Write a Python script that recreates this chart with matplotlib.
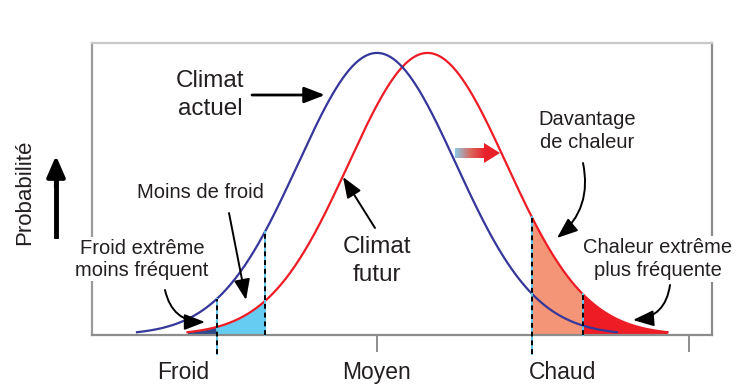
import matplotlib.pyplot as plt
import numpy as np
from matplotlib.patches import Polygon
from matplotlib.colors import LinearSegmentedColormap

plt.rcParams['font.family'] = ['Liberation Sans', 'DejaVu Sans']

# donnees (echelle horizontale = temperature, en unites du dessin)
tick_pos = [217, 377, 532, 689]
label_pos = [183, 377, 563]
labels = ['Froid', 'Moyen', 'Chaud']
mu_actuel = 377
mu_futur = 427.5
sigma = 79
peak = 0.966
half_span = 240
seuil_froid_ext = 217
seuil_froid = 265
seuil_chaud = 532
seuil_chaud_ext = 583

blue = '#35379a'
red = '#ee1c25'
ink = '#231f20'


def pdf(x, mu):
    return peak * np.exp(-(x - mu) ** 2 / (2 * sigma ** 2))


def yp(p):
    # position verticale en pixels -> donnees
    return (335 - p) / 292


fig = plt.figure(figsize=(7.5, 3.9), dpi=100)
ax = fig.add_axes([92 / 750, 55 / 390, 620 / 750, 292 / 390])
ax.set_xlim(92, 712)
ax.set_ylim(0, 1)

x_act = np.linspace(mu_actuel - half_span, mu_actuel + half_span, 500)
x_fut = np.linspace(mu_futur - half_span, mu_futur + half_span, 500)

# zones colorees sous la courbe future
zones = [(x_fut[0], seuil_froid_ext, '#2d4a8c'),
         (seuil_froid_ext, seuil_froid, '#66ccf2'),
         (seuil_chaud, seuil_chaud_ext, '#f49577'),
         (seuil_chaud_ext, x_fut[-1], red)]
for a, b, c in zones:
    xs = np.linspace(a, b, 100)
    ax.fill_between(xs, 0, pdf(xs, mu_futur), color=c, lw=0, zorder=1)

ax.plot(x_fut, pdf(x_fut, mu_futur), color=red, lw=1.6, zorder=3)
ax.plot(x_act, pdf(x_act, mu_actuel), color=blue, lw=1.6, zorder=3)

# lignes pointillees des seuils
seuils = [(seuil_froid_ext, pdf(seuil_froid_ext, mu_actuel), -0.065),
          (seuil_froid, pdf(seuil_froid, mu_actuel), 0),
          (seuil_chaud, pdf(seuil_chaud, mu_futur), -0.065),
          (seuil_chaud_ext, pdf(seuil_chaud_ext, mu_futur), 0)]
for xv, top, bot in seuils:
    ax.plot([xv, xv], [bot, top], color='#5cc8f0', lw=1.4, zorder=4, clip_on=False)
    ax.plot([xv, xv], [bot, top], color='black', lw=1.4, ls=(0, (2.5, 2)),
            zorder=5, clip_on=False)

# cadre
for side, col in [('top', '#c8c8c8'), ('right', '#8c8c8c'),
                  ('bottom', '#8c8c8c'), ('left', '#9a9a9a')]:
    ax.spines[side].set_color(col)
    ax.spines[side].set_linewidth(1.6)
ax.set_yticks([])
ax.set_xticks(tick_pos)
ax.set_xticklabels([])
ax.tick_params(axis='x', length=12, width=1.4, color='#8c8c8c', direction='out')
for xv, lab in zip(label_pos, labels):
    ax.text(xv, -0.13, lab, ha='center', va='center', fontsize=16.5, color=ink)

# axe des probabilites
fig.text(25 / 750, 1 - 192 / 390, 'Probabilité', rotation=90, ha='center',
         va='center', fontsize=16, color=ink)
fig.add_artist(plt.Line2D([56 / 750, 56 / 750], [154 / 390, 222 / 390],
                          color='black', lw=3.5))
ax.annotate('', xy=(56, 237), xytext=(56, 200), xycoords='figure pixels',
            textcoords='figure pixels',
            arrowprops=dict(arrowstyle='-|>,head_length=0.8,head_width=0.35',
                            color='black', lw=3, mutation_scale=16))

arrow = dict(arrowstyle='-|>,head_length=0.7,head_width=0.27', color='black',
             lw=1.4, mutation_scale=18, shrinkA=0, shrinkB=0)

# textes
ax.text(210, yp(95), 'Climat\nactuel', ha='center', va='center', fontsize=17.5,
        linespacing=1.4, color=ink)
ax.annotate('', xy=(325, yp(95)), xytext=(252, yp(95)),
            arrowprops=dict(arrow, lw=2))

ax.text(200, yp(192), 'Moins de froid', ha='center', va='center',
        fontsize=14.5, color=ink)
ax.annotate('', xy=(246, yp(300)), xytext=(229, yp(213)), arrowprops=arrow)

ax.text(142, yp(259), 'Froid extrême\nmoins fréquent', ha='center', va='center',
        fontsize=14.5, linespacing=1.2, color=ink, zorder=6,
        bbox=dict(facecolor='white', edgecolor='none', pad=1))
ax.annotate('', xy=(205, yp(322)), xytext=(165, yp(290)),
            arrowprops=dict(arrow, connectionstyle='arc3,rad=0.4'))

ax.text(377, yp(261), 'Climat\nfutur', ha='center', va='center', fontsize=17.5,
        linespacing=1.35, color=ink)
ax.annotate('', xy=(343, yp(177)), xytext=(375, yp(228)), arrowprops=arrow)

ax.text(587, yp(131), 'Davantage\nde chaleur', ha='center', va='center',
        fontsize=14.5, linespacing=1.25, color=ink)
ax.annotate('', xy=(557, yp(238)), xytext=(583, yp(163)),
            arrowprops=dict(arrow, connectionstyle='arc3,rad=-0.3'))

ax.text(658, yp(259), 'Chaleur extrême\nplus fréquente', ha='center',
        va='center', fontsize=14.5, linespacing=1.3, color=ink, zorder=6,
        bbox=dict(facecolor='white', edgecolor='none', pad=1), clip_on=False)
ax.annotate('', xy=(633, yp(320)), xytext=(670, yp(285)),
            arrowprops=dict(arrow, connectionstyle='arc3,rad=-0.4'))

# fleche du decalage (degrade bleu -> rouge)
pts = [(455, 148), (484, 148), (484, 143), (500, 153), (484, 163), (484, 158), (455, 158)]
poly = Polygon([(px, yp(p)) for px, p in pts], closed=True, facecolor='none',
               edgecolor='none')
ax.add_patch(poly)
grad = np.linspace(0, 1, 200).reshape(1, -1)
cmap = LinearSegmentedColormap.from_list('g', ['#8ccbe6', '#d86a60', '#e8202a', '#e8202a'])
im = ax.imshow(grad, extent=[455, 500, yp(163), yp(143)], aspect='auto',
               cmap=cmap, zorder=4)
im.set_clip_path(poly)
ax.set_xlim(92, 712)
ax.set_ylim(0, 1)

fig.savefig('out.png', dpi=100)
